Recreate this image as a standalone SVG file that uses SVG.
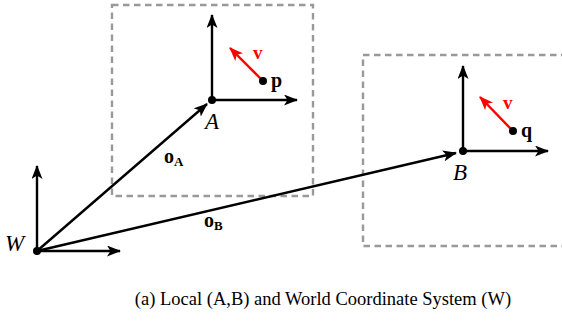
<svg xmlns="http://www.w3.org/2000/svg" width="562" height="321" viewBox="0 0 562 321">
<style>
.box{fill:none;stroke:#999;stroke-width:2.4;stroke-dasharray:6.5,4.5}
.ax{stroke:#000;stroke-width:2.4;fill:none}
.red{stroke:#f00;stroke-width:2.4;fill:none}
text{font-family:"Liberation Serif","Times New Roman",serif}
.it{font-style:italic;font-size:23px;fill:#000}
.bd{font-weight:bold;font-size:20px;fill:#000}
.rv{font-weight:bold;font-size:19px;fill:#f00}
.sub{font-weight:bold;font-size:13px}
.cap{font-size:18.5px;fill:#000}
</style>
<defs>
<marker id="ah" viewBox="0 0 14 11" refX="13" refY="5.5" markerWidth="14" markerHeight="11" markerUnits="userSpaceOnUse" orient="auto">
<path d="M0,0 L14,5.5 L0,11 L3.5,5.5 Z" fill="#000"/>
</marker>
<marker id="ahr" viewBox="0 0 14 11" refX="13" refY="5.5" markerWidth="14" markerHeight="11" markerUnits="userSpaceOnUse" orient="auto">
<path d="M0,0 L14,5.5 L0,11 L3.5,5.5 Z" fill="#f00"/>
</marker>
</defs>
<g id="frameA">
<rect class="box" x="112" y="5" width="201" height="191"/>
<line class="ax" x1="212" y1="100" x2="212" y2="15" marker-end="url(#ah)"/>
<line class="ax" x1="212" y1="100" x2="297" y2="100" marker-end="url(#ah)"/>
<circle cx="212" cy="100" r="4" fill="#000"/>
<text class="it" x="205" y="129">A</text>
<line class="red" x1="263" y1="81" x2="230" y2="48" marker-end="url(#ahr)"/>
<circle cx="263" cy="81" r="4" fill="#000"/>
<text class="bd" x="271" y="87">p</text>
<text class="rv" x="253" y="59">v</text>
</g>
<g id="frameB">
<rect class="box" x="363" y="55" width="205" height="191"/>
<line class="ax" x1="463" y1="151" x2="463" y2="66" marker-end="url(#ah)"/>
<line class="ax" x1="463" y1="151" x2="548" y2="151" marker-end="url(#ah)"/>
<circle cx="463" cy="151" r="4" fill="#000"/>
<text class="it" x="453" y="180">B</text>
<line class="red" x1="513" y1="131" x2="480" y2="97" marker-end="url(#ahr)"/>
<circle cx="513" cy="131" r="4" fill="#000"/>
<text class="bd" x="521" y="137">q</text>
<text class="rv" x="503" y="109">v</text>
</g>
<g id="frameW">
<line class="ax" x1="37" y1="251" x2="37" y2="166" marker-end="url(#ah)"/>
<line class="ax" x1="37" y1="251" x2="120" y2="251" marker-end="url(#ah)"/>
<circle cx="37" cy="251" r="4" fill="#000"/>
<text class="it" x="5" y="251">W</text>
</g>
<g id="connectors">
<line class="ax" x1="37" y1="251" x2="207" y2="104" marker-end="url(#ah)"/>
<line class="ax" x1="37" y1="251" x2="456" y2="153" marker-end="url(#ah)"/>
<text class="bd" x="164" y="163">o<tspan class="sub" dy="3">A</tspan></text>
<text class="bd" x="204" y="227">o<tspan class="sub" dy="3">B</tspan></text>
</g>
<text class="cap" x="323" y="305" text-anchor="middle">(a) Local (A,B) and World Coordinate System (W)</text>
</svg>
